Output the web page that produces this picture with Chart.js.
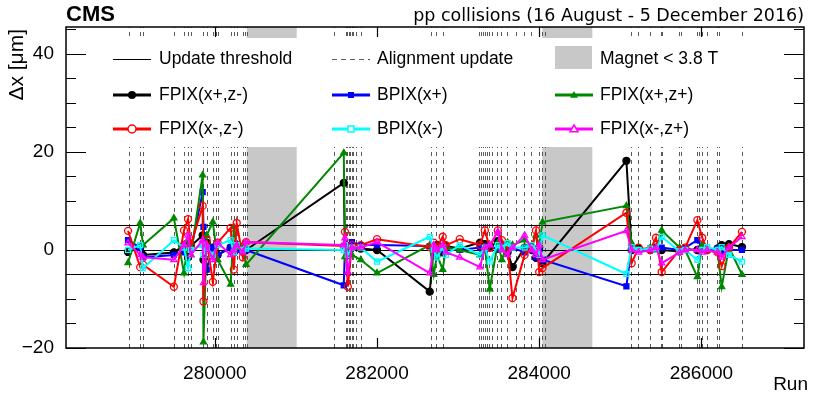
<!DOCTYPE html>
<html>
<head>
<meta charset="utf-8">
<script src="https://cdn.jsdelivr.net/npm/chart.js@4.4.1/dist/chart.umd.min.js"></script>
<style>
  html, body { margin: 0; padding: 0; background: #fff; }
  #wrap { width: 830px; height: 397px; }
</style>
</head>
<body>
<div id="wrap"><canvas id="myChart" width="830" height="397"></canvas></div>
<script>
// run numbers of the alignment updates shown as points
const runs = [
  278930, 279080, 279115, 279495, 279620, 279670, 279705, 279850, 279860, 279900,
  279975, 280035, 280195, 280235, 280270, 280345, 280385,
  281590, 281605, 281640, 281690, 281800, 282000,
  282650, 282700, 282740, 282810, 282850, 283020,
  283270, 283330, 283390, 283490, 283540, 283610, 283670, 283820, 283910, 283960, 284000, 284040,
  285075, 285140, 285225, 285370, 285440, 285510, 285730, 285800, 285950, 286010, 286070,
  286200, 286250, 286340, 286500
];

// delta x [um] per structure
const fpixXpZm = [
  -0.4, 0.5, -1.0, -0.5, 1.0, -1.5, 0.8, 3.0, -2.0, 1.5,
  0.5, -1.0, 0.5, -0.5, 1.0, -0.3, 0.0,
  13.7, 1.0, -1.0, 0.5, 0.3, 0.0,
  -8.5, 0.5, 1.0, -0.5, 0.8, 0.3,
  1.5, 1.2, 0.5, 1.8, 0.5, -0.5, -3.5, 0.5, 0.0, -1.6, 0.5, -2.7,
  18.2, 0.0, 0.3, 0.0, 0.5, 0.0, -0.3, 0.2, 0.0, 0.5, 0.0,
  0.3, 1.0, 1.2, 0.6
];
const bpixXp = [
  2.0, 0.5, -1.5, -1.0, -0.5, 1.0, 0.0, 11.8, 4.7, -4.0,
  0.5, -1.0, 0.5, -0.5, 0.0, 0.3, 0.0,
  -7.2, 0.5, 1.0, 1.6, 1.0, 1.0,
  0.8, 0.0, 0.5, 0.0, 0.5, 0.0,
  0.5, 0.0, 1.0, 0.0, 1.0, 0.0, 0.5, -0.5, 0.0, -1.5, 0.0, -2.0,
  -7.4, 0.6, 0.0, 0.3, 0.0, 0.5, 0.0, 0.5, 2.0, 0.5, 0.0,
  0.3, -0.5, 0.0, 0.0
];
const fpixXpZp = [
  -2.6, 5.5, 1.0, 6.5, -4.7, 2.0, -1.0, 15.3, -18.8, 3.0,
  5.7, -2.0, -7.0, 4.7, 0.5, 1.0, -3.0,
  19.8, -1.4, 0.5, -1.0, -2.0, -4.7,
  1.0, -5.0, -1.0, -4.0, 0.5, 0.0,
  -1.0, 0.5, -8.0, 1.5, -2.0, 1.5, 1.0, 2.0, 1.0, 3.0, 1.0, 5.7,
  9.0, 1.4, 0.0, 0.5, 0.0, 4.0, 0.5, 0.0, -5.5, 1.0, 0.0,
  -0.5, -7.5, 0.5, -5.0
];
const fpixXmZm = [
  3.9, -3.5, -3.0, -7.5, 4.0, 6.3, 1.0, 9.0, -10.5, 2.0,
  -6.5, 1.5, 4.5, -4.0, 5.5, -1.5, 1.6,
  0.8, 3.7, -7.5, 1.0, 1.0, 2.2,
  0.6, 1.5, 0.5, 2.7, 1.0, 2.2,
  1.0, 4.0, 0.5, 4.0, 2.0, 0.5, -9.8, -1.0, 0.5, 4.0, -4.5, -3.7,
  7.6, -2.7, 0.5, 0.0, 2.5, -4.5, 0.0, 0.5, 6.1, 2.5, 0.0,
  -0.5, -3.3, 0.5, 3.7
];
const bpixXm = [
  0.0, 1.0, -3.7, 2.0, 0.5, -3.7, 0.0, 1.0, -1.0, 0.5,
  -1.0, 1.0, 2.0, -0.5, 1.0, 0.0, 0.3,
  0.0, 1.0, -1.0, 0.5, 0.5, -2.4,
  2.7, 0.0, -1.5, 0.5, -1.0, 1.0,
  -1.0, 0.5, -2.4, 1.0, 0.5, 1.4, 0.5, 0.5, 1.0, 0.0, -1.0, 3.0,
  -4.9, 0.6, 0.0, 0.3, 0.0, 2.7, -0.3, 0.0, -2.0, 0.0, 0.6,
  0.0, 0.6, -1.0, -2.4
];
const fpixXmZp = [
  1.4, -1.0, -1.5, -2.0, 1.0, 3.0, -1.0, 2.0, -6.7, 1.0,
  -2.0, 1.5, -1.0, 0.0, 1.0, -0.5, 1.6,
  1.0, 2.4, -4.5, 0.5, 0.5, 1.6,
  -4.7, 1.0, 0.0, 1.0, -0.5, -1.5,
  -3.5, 0.5, 1.0, 3.7, 0.0, -1.0, 0.5, 3.0, 0.0, -1.0, 1.0, -2.0,
  3.9, 0.0, -0.5, 0.0, 0.5, -2.7, -0.5, 0.0, 0.0, -0.5, 0.0,
  -0.5, -1.5, 0.5, 2.7
];

// dashed lines: runs with an alignment update
const alignRuns = [
  278941, 279076, 279113, 279495, 279618, 279667, 279704, 279852, 279901, 279975,
  280012, 280037, 280197, 280234, 280271, 280345, 280369, 280394,
  281465, 281613, 281625, 281650, 281662, 281687, 281699, 281736, 281798,
  282660, 282722, 282808,
  283263, 283288, 283313, 283337, 283362, 283387, 283423, 283485, 283534, 283608,
  283719, 283817, 283904, 284002, 284039, 284076,
  285135, 285222, 285369, 285505, 285517, 285726, 285751, 285948, 285973, 286010,
  286071, 286194, 286219, 286502
];

// magnet below 3.8 T (run ranges)
const magnetStart = [280394, 284039];
const magnetEnd = [281010, 284655];

const thresholds = [-5, 0, 5];
const xTicks = [280000, 282000, 284000, 286000];
const yTicks = [-20, 0, 20, 40];

const seriesNames = ["FPIX(x+,z-)", "BPIX(x+)", "FPIX(x+,z+)", "FPIX(x-,z-)", "BPIX(x-)", "FPIX(x-,z+)"];
const seriesValues = [fpixXpZm, bpixXp, fpixXpZp, fpixXmZm, bpixXm, fpixXmZp];
const seriesColors = ["#000000", "#0000ff", "#008800", "#ff0000", "#00ffff", "#ff00ff"];
const seriesMarkers = ["circle", "rect", "triangle", "circle", "rect", "triangle"];
const seriesOpen = [false, false, false, true, true, true];

Chart.defaults.font.family = "'Liberation Sans', Arial, sans-serif";
Chart.defaults.color = "#000";

function drawMarker(ctx, style, open, color, x, y, r) {
  ctx.save();
  ctx.lineWidth = 1.5;
  ctx.strokeStyle = color;
  ctx.fillStyle = color;
  ctx.beginPath();
  if (style === "circle") {
    ctx.arc(x, y, r, 0, Math.PI * 2);
  } else if (style === "rect") {
    ctx.rect(x - r * 0.75, y - r * 0.75, r * 1.5, r * 1.5);
  } else {
    ctx.moveTo(x, y - r);
    ctx.lineTo(x + r, y + r * 0.7);
    ctx.lineTo(x - r, y + r * 0.7);
    ctx.closePath();
  }
  if (open) {
    ctx.fillStyle = "#fff";
    ctx.fill();
    ctx.stroke();
  } else {
    ctx.fill();
  }
  ctx.restore();
}

const cmsDecor = {
  id: "cmsDecor",
  beforeDatasetsDraw(chart) {
    const { ctx, chartArea: a, scales: { x, y } } = chart;
    ctx.save();
    ctx.beginPath();
    ctx.rect(a.left, a.top, a.right - a.left, a.bottom - a.top);
    ctx.clip();
    // magnet bands
    ctx.fillStyle = "#c8c8c8";
    for (let i = 0; i < magnetStart.length; i++) {
      const x0 = x.getPixelForValue(magnetStart[i]);
      const x1 = x.getPixelForValue(magnetEnd[i]);
      ctx.fillRect(x0, a.top, x1 - x0, a.bottom - a.top);
    }
    // alignment updates
    ctx.strokeStyle = "#5a5a5a";
    ctx.lineWidth = 1;
    ctx.setLineDash([4, 4]);
    alignRuns.forEach((r) => {
      const px = Math.round(x.getPixelForValue(r)) + 0.5;
      ctx.beginPath();
      ctx.moveTo(px, a.bottom);
      ctx.lineTo(px, a.top);
      ctx.stroke();
    });
    ctx.setLineDash([]);
    // thresholds
    ctx.strokeStyle = "#000";
    thresholds.forEach((v) => {
      const py = Math.round(y.getPixelForValue(v)) + 0.5;
      ctx.beginPath();
      ctx.moveTo(a.left, py);
      ctx.lineTo(a.right, py);
      ctx.stroke();
    });
    ctx.restore();
  },
  afterDatasetsDraw(chart) {
    const { ctx, chartArea: a, scales: { x, y } } = chart;
    ctx.save();
    // legend box
    ctx.fillStyle = "#fff";
    ctx.fillRect(88, 38, 696, 109);
    ctx.font = "17.5px 'Liberation Sans', Arial, sans-serif";
    ctx.textBaseline = "middle";
    ctx.fillStyle = "#000";
    const colLine = [113, 332, 555];
    const colText = [159, 377, 600];
    const rowY = [59, 95, 129];
    // row 1
    ctx.strokeStyle = "#000";
    ctx.lineWidth = 1;
    ctx.beginPath();
    ctx.moveTo(colLine[0], rowY[0] + 0.5);
    ctx.lineTo(colLine[0] + 38, rowY[0] + 0.5);
    ctx.stroke();
    ctx.fillText("Update threshold", colText[0], rowY[0]);
    ctx.strokeStyle = "#5a5a5a";
    ctx.setLineDash([5, 4]);
    ctx.beginPath();
    ctx.moveTo(colLine[1], rowY[0] + 0.5);
    ctx.lineTo(colLine[1] + 38, rowY[0] + 0.5);
    ctx.stroke();
    ctx.setLineDash([]);
    ctx.fillText("Alignment update", colText[1], rowY[0]);
    ctx.fillStyle = "#c8c8c8";
    ctx.fillRect(colLine[2], 46, 37, 23);
    ctx.fillStyle = "#000";
    ctx.fillText("Magnet < 3.8 T", colText[2], rowY[0]);
    // series entries
    for (let i = 0; i < seriesNames.length; i++) {
      const col = i % 3;
      const ry = rowY[1 + Math.floor(i / 3)];
      ctx.strokeStyle = seriesColors[i];
      ctx.lineWidth = 3;
      ctx.beginPath();
      ctx.moveTo(colLine[col], ry);
      ctx.lineTo(colLine[col] + 38, ry);
      ctx.stroke();
      drawMarker(ctx, seriesMarkers[i], seriesOpen[i], seriesColors[i], colLine[col] + 19, ry, 4);
      ctx.fillStyle = "#000";
      ctx.fillText(seriesNames[i], colText[col], ry);
    }
    // frame
    ctx.strokeStyle = "#000";
    ctx.lineWidth = 1.5;
    ctx.strokeRect(a.left, a.top, a.right - a.left, a.bottom - a.top);
    // ticks, inside on all four sides
    ctx.lineWidth = 1.2;
    ctx.beginPath();
    xTicks.forEach((v) => {
      const px = Math.round(x.getPixelForValue(v)) + 0.5;
      ctx.moveTo(px, a.bottom); ctx.lineTo(px, a.bottom - 10);
      ctx.moveTo(px, a.top); ctx.lineTo(px, a.top + 10);
    });
    for (let v = -20; v <= 45; v += 5) {
      const py = Math.round(y.getPixelForValue(v)) + 0.5;
      const len = v % 20 === 0 ? 20 : 10;
      ctx.moveTo(a.left, py); ctx.lineTo(a.left + len, py);
      ctx.moveTo(a.right, py); ctx.lineTo(a.right - len, py);
    }
    ctx.stroke();
    // texts
    ctx.textBaseline = "alphabetic";
    ctx.fillStyle = "#000";
    ctx.font = "bold 22px 'Liberation Sans', Arial, sans-serif";
    ctx.textAlign = "left";
    ctx.fillText("CMS", 66, 21);
    ctx.font = "17.5px 'DejaVu Sans', sans-serif";
    ctx.textAlign = "right";
    ctx.fillText("pp collisions (16 August - 5 December 2016)", 804, 21);
    ctx.font = "19px 'Liberation Sans', Arial, sans-serif";
    ctx.fillText("Run", 808, 390);
    ctx.save();
    ctx.translate(23, 29);
    ctx.rotate(-Math.PI / 2);
    ctx.textAlign = "right";
    ctx.font = "21px 'Liberation Sans', Arial, sans-serif";
    ctx.fillText("\u0394x [\u03bcm]", 0, 0);
    ctx.restore();
    ctx.restore();
  }
};

const datasets = seriesNames.map((name, i) => ({
  label: name,
  data: runs.map((r, k) => ({ x: r, y: seriesValues[i][k] })),
  borderColor: seriesColors[i],
  backgroundColor: seriesOpen[i] ? "rgba(255,255,255,0)" : seriesColors[i],
  pointBorderColor: seriesColors[i],
  pointBackgroundColor: seriesOpen[i] ? "rgba(255,255,255,0)" : seriesColors[i],
  pointStyle: seriesMarkers[i],
  pointRadius: 3.5,
  pointBorderWidth: 1.3,
  borderWidth: 2,
  tension: 0,
  order: seriesNames.length - i,
}));

const config = {
  type: "line",
  data: { datasets: datasets },
  options: {
    responsive: false,
    animation: false,
    devicePixelRatio: 1,
    layout: { padding: { left: 0, top: 27, right: 26, bottom: 0 } },
    plugins: { legend: { display: false }, tooltip: { enabled: false } },
    scales: {
      x: {
        type: "linear",
        min: 278165,
        max: 287265,
        afterFit: (s) => { s.height = 49; },
        afterBuildTicks: (s) => { s.ticks = xTicks.map((v) => ({ value: v })); },
        grid: { display: false },
        border: { display: false },
        ticks: { padding: 6, font: { size: 19 }, callback: (v) => String(v), maxRotation: 0 },
      },
      y: {
        min: -20,
        max: 45.5,
        afterFit: (s) => { s.width = 66; },
        afterBuildTicks: (s) => { s.ticks = yTicks.map((v) => ({ value: v })); },
        grid: { display: false },
        border: { display: false },
        ticks: { padding: 4, font: { size: 19 }, callback: (v) => (v < 0 ? "\u2212" + Math.abs(v) : String(v)) },
      },
    },
  },
  plugins: [cmsDecor],
};

const myChart = new Chart(document.getElementById("myChart"), config);
</script>
</body>
</html>
